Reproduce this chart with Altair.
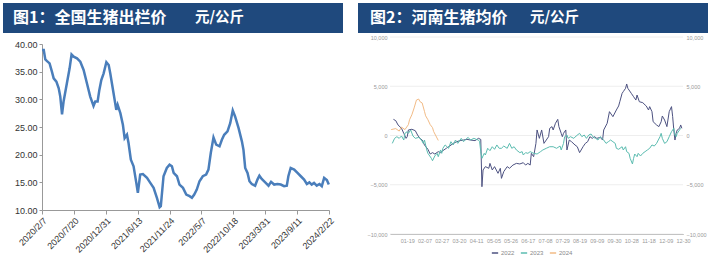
import altair as alt
import pandas as pd

FONT = "Liberation Sans"
CJK = "Noto Sans CJK SC"
BAR = "#1F497D"

# ---------------- titles ----------------
title1 = ["图1：全国生猪出栏价", "元/公斤"]
title2 = ["图2：河南生猪均价", "元/公斤"]

# ---------------- Fig 1: national hog price (元/公斤) ----------------
nat_dates = ["2020-02-07","2020-02-16","2020-02-24","2020-03-04","2020-03-17","2020-03-29","2020-04-07","2020-04-21",
             "2020-05-03","2020-05-11","2020-05-20","2020-05-28","2020-06-14","2020-06-28","2020-07-08","2020-07-19",
             "2020-08-05","2020-08-22","2020-09-08","2020-09-25","2020-10-12","2020-10-29","2020-11-07","2020-11-19",
             "2020-11-28","2020-12-08","2020-12-20",
             "2021-01-03","2021-01-15","2021-01-23","2021-02-09","2021-02-23","2021-03-02","2021-03-16","2021-03-29",
             "2021-04-07","2021-04-19","2021-04-27","2021-05-09","2021-05-23","2021-06-06","2021-06-14","2021-06-26",
             "2021-07-10","2021-07-31","2021-08-17","2021-09-03","2021-09-20","2021-10-04","2021-10-10","2021-10-24",
             "2021-11-10","2021-11-24","2021-12-06","2021-12-15",
             "2022-01-01","2022-01-14","2022-02-01","2022-02-18","2022-03-07","2022-03-19","2022-03-31","2022-04-13",
             "2022-04-27","2022-05-14","2022-05-31","2022-06-12","2022-06-24","2022-07-08","2022-07-22","2022-08-08",
             "2022-08-20","2022-09-01","2022-09-18","2022-10-02","2022-10-15","2022-10-27","2022-11-14","2022-12-01",
             "2022-12-09","2022-12-18","2022-12-30",
             "2023-01-09","2023-01-21","2023-02-07","2023-02-19","2023-03-01","2023-03-13","2023-03-31","2023-04-17",
             "2023-04-30","2023-05-16","2023-06-02","2023-06-19","2023-07-06","2023-07-20","2023-07-28","2023-08-09",
             "2023-08-27","2023-09-13","2023-09-30","2023-10-17","2023-10-31","2023-11-13","2023-11-25","2023-12-07",
             "2023-12-21",
             "2024-01-04","2024-01-16","2024-01-28","2024-02-11","2024-02-21"]
nat_price = [38.9,38.9,37.2,36.9,36.5,35.0,33.8,33.2,32.0,30.5,27.3,29.6,32.9,35.6,38.1,37.7,37.4,36.8,35.3,32.9,
             30.5,28.8,29.6,29.6,31.7,33.5,34.7,
             36.7,36.2,34.7,31.1,28.1,29.0,27.5,25.4,23.0,23.6,22.1,19.1,17.9,14.9,13.1,16.4,16.5,15.8,14.9,14.0,
             12.2,10.5,10.7,16.1,17.6,18.2,17.9,16.7,
             16.1,14.6,14.0,12.8,12.5,12.2,12.8,13.7,15.2,16.1,16.4,17.3,20.3,23.1,21.8,21.5,22.7,23.6,24.2,25.7,
             28.0,26.9,24.8,22.4,20.9,17.6,16.7,
             15.2,14.7,14.4,15.5,16.2,15.6,15.0,14.4,15.1,14.6,14.7,14.6,14.3,14.4,16.1,17.6,17.3,16.7,16.1,15.5,
             14.7,15.0,14.6,14.9,14.4,
             14.7,14.3,15.8,15.4,14.6]
nat_ticks = ["2020-02-07","2020-07-20","2020-12-31","2021-06-13","2021-11-24",
             "2022-05-07","2022-10-18","2023-03-31","2023-09-11","2024-02-22"]
nat_yticks = [10, 15, 20, 25, 30, 35, 40]

# ---------------- Fig 2: Henan hog price, by trading-day index ----------------
hn_labels = ["01-19","02-07","02-27","03-20","04-11","05-05","05-26","06-17","07-08",
             "07-29","08-19","09-09","09-30","10-28","11-18","12-09","12-30"]
hn_label_idx = [15,30,45,60,75,90,105,120,135,150,165,180,195,210,225,240,255]
hn_yticks = [-10000, -5000, 0, 5000, 10000]
hn_years = ["2022", "2023", "2024"]
hn_colors = ["#4d5281", "#5bbcb0", "#f2bb86"]

d22_idx = [3,5,7,10,12,14,15,16,19,22,24,26,28,30,33,35,37,39,42,44,46,49,52,55,58,61,64,67,70,74,
           77,79,80,81,83,86,87,89,91,94,96,97,99,102,104,107,110,113,116,118,120,122,123,125,127,128,130,132,134,136,
           138,139,141,142,144,146,147,149,150,151,153,154,156,158,161,163,165,168,170,172,174,176,178,180,183,185,186,189,191,193,
           194,197,199,200,202,203,205,206,207,208,210,212,214,215,217,220,222,223,225,226,228,229,232,234,236,237,239,241,243,245,
           246,247,248,249,250,252,253,254]
d22_val = [1640,1510,1070,730,220,-290,-120,560,630,490,50,-290,-460,-960,-1400,-1880,-1740,-1880,-1640,-1740,
           -1540,-1300,-1070,-800,-630,-520,-460,-390,-460,-520,-290,-400,-5200,-3500,-3160,-3330,-2830,-3500,-3160,-3840,
           -3330,-4350,-3670,-3160,-3330,-3000,-2830,-2890,-2760,-3000,-2830,-3000,-1810,-2150,-800,560,-290,560,-800,-460,
           -120,730,900,560,1240,1640,900,220,-120,220,560,-1470,-460,-630,-960,-1140,-1740,-1140,-800,-630,
           -120,-290,-120,-290,-190,-460,560,1240,2420,2080,1910,2590,3000,3430,4280,4450,4790,5230,4790,4620,
           4280,3940,3600,4110,3430,3330,3100,3000,2590,2930,2420,1400,1070,900,1400,1980,1570,900,2420,2930,
           1910,560,-460,220,560,730,1070,730]

d23_idx = [2,4,6,8,10,12,13,15,16,18,20,22,25,27,29,30,32,33,36,37,39,41,42,44,45,46,48,51,53,55,
           57,59,62,64,66,68,70,73,75,77,78,79,80,82,83,85,87,89,91,93,95,97,99,102,104,106,108,110,113,115,
           116,118,120,122,125,128,131,133,136,139,142,145,148,149,151,152,154,155,157,160,162,165,167,169,171,173,175,177,179,181,
           183,186,188,190,192,194,196,197,199,202,203,205,206,208,209,211,212,213,215,216,218,220,222,224,226,228,230,232,235,236,
           237,239,241,243,245,247,248,249,250,252,253]
d23_val = [-800,-290,-120,-290,-50,-460,220,390,220,560,-50,-290,-190,-390,-800,-460,-1470,-1810,-2320,-2560,
           -2080,-1810,-2150,-1470,-1810,-1300,-960,-1300,-630,-960,-460,-800,-290,-630,-390,-190,-460,-290,-390,-460,
           -630,-1640,-2320,-1810,-1980,-1300,-1540,-1140,-1400,-960,-1300,-1300,-1070,-1300,-800,-1300,-1140,-1470,-1740,-1640,
           -1980,-1740,-1810,-1640,-1810,-1880,-1640,-1470,-1300,-1140,-1140,-1300,-1070,-1470,-800,-120,50,-290,-120,-290,
           -50,220,-120,50,-290,50,150,-190,-290,-460,-120,-460,-800,-630,-460,-630,-800,-1300,-1400,-1140,
           -1470,-1140,-1640,-1810,-2320,-2890,-2320,-1880,-2150,-1810,-2080,-1810,-1640,-1470,-1300,-960,-1070,-800,-120,220,
           -290,-800,-630,-120,390,730,50,-120,220,560,730]

d24_idx = [1,5,8,10,13,16,17,19,21,23,25,26,28,30,31,33,35,37,38,40,42]
d24_val = [600,700,450,850,600,1100,1600,2100,2800,3600,3700,3450,3300,2450,2000,1600,1100,800,400,-50,-500]


def dt(s):
    y, m, d = (int(p) for p in s.split("-"))
    return alt.DateTime(year=y, month=m, date=d)


def title_bar(texts, bar_x, bar_x2, tx1, tx2):
    one = pd.DataFrame({"k": [0]})
    bar = alt.Chart(one).mark_rect(color=BAR).encode(
        x=alt.value(bar_x), x2=alt.value(bar_x2), y=alt.value(-34), y2=alt.value(-4))
    t1 = alt.Chart(pd.DataFrame({"t": [texts[0]]})).mark_text(
        font=CJK, fontSize=16, fontWeight="bold", color="white", align="left", baseline="middle"
    ).encode(text="t:N", x=alt.value(tx1), y=alt.value(-19))
    t2 = alt.Chart(pd.DataFrame({"t": [texts[1]]})).mark_text(
        font=CJK, fontSize=14.5, fontWeight="bold", color="white", align="left", baseline="middle"
    ).encode(text="t:N", x=alt.value(tx2), y=alt.value(-19))
    return [bar, t1, t2]


# ----- left panel -----
nat = pd.DataFrame({"date": pd.to_datetime(nat_dates), "price": nat_price})
line1 = alt.Chart(nat).mark_line(color="#4A7EBB", strokeWidth=2.5).encode(
    x=alt.X("date:T",
            scale=alt.Scale(domain=[dt(nat_ticks[0]), dt(nat_ticks[-1])]),
            axis=alt.Axis(values=[dt(t) for t in nat_ticks], format="%Y/%-m/%-d", labelAngle=-45,
                          labelOverlap=False, labelBound=False, labelFlush=False,
                          title=None, grid=False, labelFontSize=9, labelColor="#333333",
                          domainColor="#999999", tickColor="#999999", tickSize=4, labelPadding=2)),
    y=alt.Y("price:Q",
            scale=alt.Scale(domain=[10, 40], range=[173, 7], nice=False, zero=False),
            axis=alt.Axis(values=nat_yticks, format=".2f", title=None, grid=False, labelFontSize=9,
                          labelColor="#333333", domainColor="#999999", tickColor="#999999", tickSize=3,
                          labelPadding=2, labelOverlap=False, labelFlush=False)),
)
left = alt.layer(*title_bar(title1, -39, 301, -29, 153), line1).properties(width=287, height=173)

# ----- right panel -----
rows = []
for yr, idxs, vals in zip(hn_years, [d22_idx, d23_idx, d24_idx], [d22_val, d23_val, d24_val]):
    for i, v in zip(idxs, vals):
        rows.append({"year": yr, "idx": i, "val": v})
hn = pd.DataFrame(rows)

label_expr = "[" + ",".join("'%s'" % s for s in hn_labels) + "][round(datum.value / 15) - 1]"
xsc = alt.Scale(domain=[0, 255], nice=False, zero=False)
ysc = alt.Scale(domain=[-10000, 10000], nice=False)

grid = alt.Chart(pd.DataFrame({"g": hn_yticks})).mark_rule(color="#eeeeee", strokeWidth=1).encode(
    y=alt.Y("g:Q", scale=ysc,
            axis=alt.Axis(orient="right", values=hn_yticks, format=",.0f", title=None, grid=False, domain=False,
                          ticks=False, labelFontSize=5.5, labelColor="#999999", labelPadding=3,
                          labelOverlap=False, labelFlush=False)))

lines2 = alt.Chart(hn).mark_line(strokeWidth=1).encode(
    x=alt.X("idx:Q", scale=xsc,
            axis=alt.Axis(values=hn_label_idx, labelExpr=label_expr, title=None, grid=False, ticks=False,
                          labelOverlap=False, labelBound=False, labelFlush=False,
                          domainColor="#999999", labelFontSize=5.5, labelColor="#999999", labelPadding=4)),
    y=alt.Y("val:Q", scale=ysc,
            axis=alt.Axis(orient="left", values=hn_yticks, format=",.0f", title=None, grid=False, domain=False,
                          ticks=False, labelFontSize=5.5, labelColor="#999999", labelPadding=3,
                          labelOverlap=False, labelFlush=False)),
    color=alt.Color("year:N", scale=alt.Scale(domain=hn_years, range=hn_colors),
                    legend=alt.Legend(title=None, orient="none", legendX=449, legendY=212,
                                      direction="horizontal", symbolType="stroke", symbolSize=40,
                                      symbolStrokeWidth=1.5, labelFontSize=6, labelColor="#888888",
                                      columnPadding=2, labelOffset=2, padding=0)),
)

right = alt.layer(*title_bar(title2, -32, 318, -20, 140), grid, lines2).resolve_axis(
    y="independent").properties(width=293, height=197)

chart = alt.hconcat(left, right, spacing=61, bounds="flush").properties(
    padding={"left": 3, "top": 3, "right": 0, "bottom": 0}
).configure(font=FONT).configure_view(stroke=None)

chart.save("out.html", embed_options={"renderer": "svg", "actions": False})
